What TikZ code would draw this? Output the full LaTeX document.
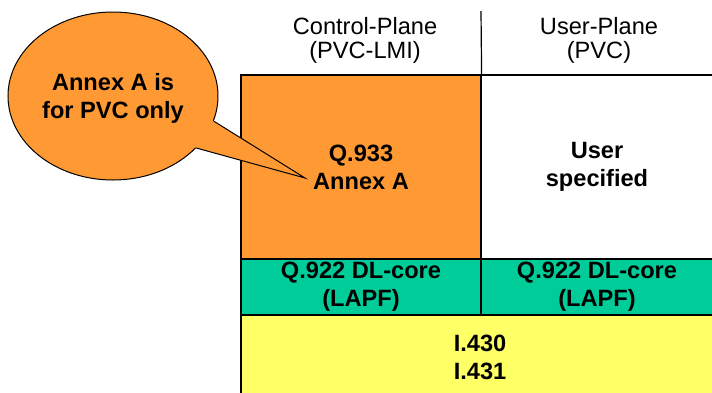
\documentclass[tikz,border=0pt]{standalone}
\usepackage{fontspec}
\setmainfont{Liberation Sans}
\usetikzlibrary{shapes.geometric}

\definecolor{lmiorange}{HTML}{FF9933}
\definecolor{lapfgreen}{HTML}{00CC99}
\definecolor{phyyellow}{HTML}{FFFF66}

\begin{document}
\begin{tikzpicture}[x=0.5pt,y=-0.5pt,font=\fontsize{11.8}{12}\selectfont]
  \tikzset{
    layer/.style={
      draw,
      line width=0.6pt,
      align=center,
      inner sep=0pt,
      font=\fontsize{11.8}{14}\selectfont\bfseries
    },
    header/.style={
      align=center,
      inner sep=0pt
    },
    bubble/.style={
      ellipse,
      draw,
      line width=0.5pt,
      fill=lmiorange,
      minimum width=105pt,
      minimum height=84pt,
      inner sep=0pt
    },
    bubbletext/.style={
      align=center,
      inner sep=0pt,
      font=\fontsize{11.8}{14}\selectfont\bfseries
    }
  }
  \useasboundingbox (0,0) rectangle (712,392);

  \node[header] (hdrctrl) at (365,40) {Control-Plane\\(PVC-LMI)};
  \node[header] (hdruser) at (599,40) {User-Plane\\(PVC)};

  \node[layer,fill=lmiorange,minimum width=120pt,minimum height=92pt] (q933) at (361,167) {Q.933\\Annex A};
  \node[layer,fill=white,minimum width=116pt,minimum height=92pt] (userspec) at (597,167) {User\\specified};

  \node[layer,fill=lapfgreen,minimum width=120pt,minimum height=28pt] (lapfctrl) at (361,287) {Q.922 DL-core\\(LAPF)};
  \node[layer,fill=lapfgreen,minimum width=116pt,minimum height=28pt] (lapfuser) at (597,287) {Q.922 DL-core\\(LAPF)};

  \node[layer,fill=phyyellow,minimum width=239pt,minimum height=42pt] (phy) at (480,357) {I.430\\I.431};

  \coordinate (septop) at (481,11);
  \draw[line width=0.6pt] (septop) -- (q933.north east);

  % callout
  \node[bubble] (note) at (113,96) {};
  \coordinate (tip) at (305,178);
  \fill[lmiorange] (note.-14) -- (tip) -- (note.-32) -- (note.center) -- cycle;
  \draw[line width=0.5pt] (note.-14) -- (tip) -- (note.-32);
  \node[bubbletext] (notetext) at (113,98) {Annex A is\\for PVC only};
\end{tikzpicture}
\end{document}
